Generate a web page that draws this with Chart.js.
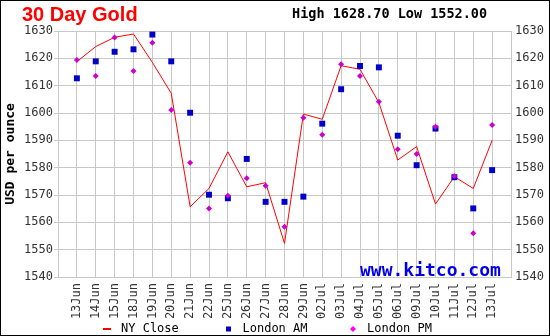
<!DOCTYPE html>
<html>
<head>
<meta charset="utf-8">
<script src="https://cdn.jsdelivr.net/npm/chart.js@4.4.1/dist/chart.umd.min.js"></script>
<style>
  html, body { margin: 0; padding: 0; background: #fff; }
  #wrap { width: 550px; height: 336px; position: relative; }
</style>
</head>
<body>
<div id="wrap"><canvas id="gold-chart" width="550" height="336"></canvas></div>
<script>
// 30 day gold chart
const dates = ['13Jun', '14Jun', '15Jun', '18Jun', '19Jun', '20Jun', '21Jun', '22Jun', '25Jun', '26Jun', '27Jun', '28Jun',
    '29Jun', '02Jul', '03Jul', '04Jul', '05Jul', '06Jul', '09Jul', '10Jul', '11Jul', '12Jul', '13Jul'];
const nyClose = [1618.8, 1624.3, 1627.7, 1628.9, 1618.5, 1607.2, 1565.7, 1572.4, 1585.8, 1573.0, 1574.5, 1552.3,
    1599.6, 1597.7, 1617.3, 1616.0, 1603.8, 1582.8, 1587.7, 1566.7, 1576.7, 1572.4, 1590.0];
const londonAM = [1612.7, 1618.9, 1622.4, 1623.3, 1628.7, 1618.9, 1600.1, 1570.1, 1568.8, 1583.2, 1567.5, 1567.5,
    1569.4, 1596.1, 1608.7, 1617.2, 1616.7, 1591.7, 1580.9, 1594.3, 1576.5, 1565.1, 1579.1];
const londonPM = [1619.4, 1613.5, 1627.6, 1615.4, 1625.7, 1601.1, 1581.8, 1565.1, 1569.7, 1576.1, 1573.4, 1558.4,
    1598.3, 1592.0, 1617.8, 1613.5, 1604.1, 1586.7, 1585.0, 1595.0, 1576.9, 1556.0, 1595.6];
const yMin = 1540, yMax = 1630, yStep = 10;
const highLow = 'High 1628.70 Low 1552.00';

const toPoints = arr => arr.map((v, i) => ({ x: i, y: v }));
const mono = 'DejaVu Sans Mono';
const gridColor = '#c8c8c8';

// header, watermark, legend and frame
const decorations = {
    id: 'decorations',
    afterDraw(chart) {
        const ctx = chart.ctx;
        ctx.save();
        ctx.textBaseline = 'alphabetic';
        ctx.textAlign = 'left';
        ctx.fillStyle = '#ff0000';
        ctx.font = 'bold 20px "Liberation Sans", Arial, sans-serif';
        ctx.fillText('30 Day Gold', 22, 21);
        ctx.fillStyle = '#000';
        ctx.font = 'bold 13.5px "' + mono + '"';
        ctx.fillText(highLow, 292, 18);

        ctx.fillStyle = '#0000ee';
        ctx.font = 'bold 18px "' + mono + '"';
        ctx.fillText('www.kitco.com', 360, 276);

        // legend
        const lx = [107, 228.5, 353];
        ctx.font = '12px "' + mono + '"';
        ctx.textBaseline = 'middle';
        chart.data.datasets.forEach((ds, i) => {
            const cx = lx[i], cy = 329;
            ctx.fillStyle = ds.legendColor;
            if (i === 0) {
                ctx.fillRect(cx - 4, cy - 1, 8, 2);
            } else if (i === 1) {
                ctx.fillRect(cx - 2.5, cy - 2.5, 5, 5);
            } else {
                ctx.beginPath();
                ctx.moveTo(cx, cy - 3);
                ctx.lineTo(cx + 3, cy);
                ctx.lineTo(cx, cy + 3);
                ctx.lineTo(cx - 3, cy);
                ctx.closePath();
                ctx.fill();
            }
            ctx.fillStyle = '#000';
            ctx.fillText(ds.label, cx + 14, cy);
        });

        ctx.strokeStyle = '#000';
        ctx.lineWidth = 1;
        ctx.strokeRect(0.5, 0.5, chart.width - 1, chart.height - 1);
        ctx.restore();
    }
};

const ctx = document.getElementById('gold-chart').getContext('2d');
new Chart(ctx, {
    type: 'line',
    data: {
        datasets: [{
            label: 'NY Close',
            data: toPoints(nyClose),
            borderColor: '#ff0000',
            legendColor: '#ff0000',
            borderWidth: 1,
            pointRadius: 0,
            tension: 0,
            order: 3
        }, {
            label: 'London AM',
            data: toPoints(londonAM),
            showLine: false,
            pointStyle: 'rect',
            pointRadius: 4.2,
            pointBorderWidth: 0,
            backgroundColor: '#0000c8',
            borderColor: '#0000c8',
            legendColor: '#0000c8',
            order: 2
        }, {
            label: 'London PM',
            data: toPoints(londonPM),
            showLine: false,
            pointStyle: 'rectRot',
            pointRadius: 3,
            pointBorderWidth: 0,
            backgroundColor: '#cc00cc',
            borderColor: '#cc00cc',
            legendColor: '#ff00ff',
            order: 1
        }]
    },
    options: {
        responsive: false,
        animation: false,
        layout: {
            padding: { top: 31, bottom: 16, left: 0, right: 0 }
        },
        plugins: {
            legend: { display: false },
            title: { display: false },
            tooltip: { enabled: false }
        },
        scales: {
            x: {
                type: 'linear',
                min: -1,
                max: dates.length,
                afterFit: s => { s.height = 43; },
                grid: { color: gridColor, drawTicks: false },
                border: { color: gridColor },
                ticks: {
                    stepSize: 1,
                    autoSkip: false,
                    maxRotation: 90,
                    minRotation: 90,
                    padding: 6,
                    color: '#333',
                    font: { family: mono, size: 12 },
                    callback: v => dates[v] || ''
                }
            },
            y: {
                position: 'left',
                min: yMin,
                max: yMax,
                afterFit: s => { s.width = 58; },
                grid: { color: gridColor, tickLength: 4 },
                border: { color: gridColor },
                title: {
                    display: true,
                    text: 'USD per ounce',
                    color: '#000',
                    padding: { top: 3, bottom: 0 },
                    font: { family: mono, size: 13, weight: 'bold' }
                },
                ticks: {
                    stepSize: yStep,
                    padding: 1,
                    color: '#333',
                    font: { family: mono, size: 12 },
                    callback: v => String(v)
                }
            },
            y2: {
                position: 'right',
                min: yMin,
                max: yMax,
                afterFit: s => { s.width = 39; },
                grid: { drawOnChartArea: false, drawTicks: false },
                border: { color: gridColor },
                ticks: {
                    stepSize: yStep,
                    padding: 4,
                    color: '#333',
                    font: { family: mono, size: 12 },
                    callback: v => String(v)
                }
            }
        }
    },
    plugins: [decorations]
});
</script>
</body>
</html>
